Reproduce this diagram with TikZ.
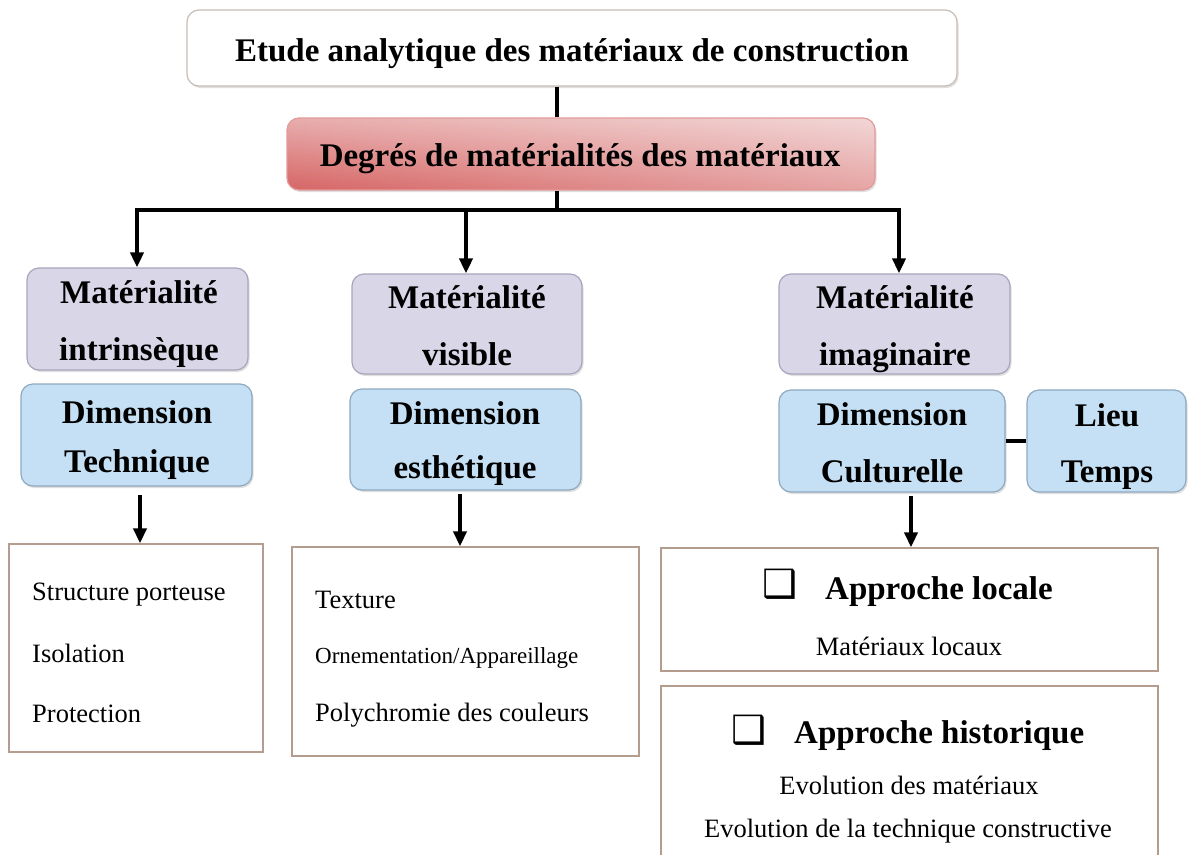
\documentclass[tikz,border=0pt]{standalone}
\usepackage{fontspec}
\setmainfont{Liberation Serif}
\newfontfamily\symfont{DejaVu Sans}
\usetikzlibrary{arrows.meta,shadows,shadings}
\definecolor{purp}{HTML}{D9D6E8}
\definecolor{purpd}{HTML}{A9A5BC}
\definecolor{blu}{HTML}{C5E0F4}
\definecolor{blud}{HTML}{8FA9C0}
\definecolor{topd}{HTML}{C9BDB5}
\definecolor{redd}{HTML}{E39A9A}
\definecolor{rectc}{HTML}{B49C8E}
\definecolor{rll}{HTML}{D66565}
\definecolor{rlr}{HTML}{E6A5A5}
\definecolor{rul}{HTML}{E8ADAD}
\definecolor{rur}{HTML}{F2D6D6}
\begin{document}
\begin{tikzpicture}[x=1pt,y=-1pt]
\tikzset{
 rbox/.style={draw=#1, rounded corners=12pt, line width=1.2pt, inner sep=0pt,
   drop shadow={shadow xshift=1.5pt, shadow yshift=-2pt, opacity=0.25}},
 hd/.style={font=\bfseries\fontsize{33}{40}\selectfont, anchor=base, inner sep=0pt},
 conn/.style={line width=4pt, line cap=rect},
 arr/.style={line width=4pt, -{Triangle[width=13pt,length=15pt]}},
 rect/.style={draw=rectc, line width=1.3pt, fill=white, inner sep=0pt},
 txt/.style={font=\fontsize{26.5}{30}\selectfont, anchor=base west, inner sep=0pt},
 ctxt/.style={font=\fontsize{26.5}{30}\selectfont, anchor=base, inner sep=0pt},
 btxt/.style={font=\bfseries\fontsize{33}{40}\selectfont, anchor=base west, inner sep=0pt},
 cbx/.style={font=\symfont\fontsize{39}{40}\selectfont, anchor=base west, inner sep=0pt},
}
\clip (0,0) rectangle (1190,854);
\fill[white] (0,0) rectangle (1190,854);

% top boxes
\node[rbox=topd, fill=white, minimum width=770pt, minimum height=76pt] (top) at (572,48) {};
\node[hd] (topt) at (572,61) {Etude analytique des matériaux de construction};
\node[rbox=redd, minimum width=588pt, minimum height=72pt,
  lower left=rll, lower right=rlr, upper left=rul, upper right=rur] (red) at (581,154) {};
\node[hd] (redt) at (580,166) {Degrés de matérialités des matériaux};

% level 2 boxes
\node[rbox=purpd, fill=purp, minimum width=221pt, minimum height=102pt] (lp) at (137.5,319) {};
\node[rbox=purpd, fill=purp, minimum width=230pt, minimum height=100pt] (mp) at (467,324) {};
\node[rbox=purpd, fill=purp, minimum width=231pt, minimum height=100pt] (rp) at (894.5,324) {};
\node[rbox=blud, fill=blu, minimum width=231pt, minimum height=102pt] (lb) at (136.5,435) {};
\node[rbox=blud, fill=blu, minimum width=231pt, minimum height=101pt] (mb) at (465.5,439.5) {};
\node[rbox=blud, fill=blu, minimum width=226pt, minimum height=102pt] (rb) at (892,441) {};
\node[rbox=blud, fill=blu, minimum width=159pt, minimum height=102pt] (lt) at (1106.5,441) {};

% level 2 texts
\node[hd] (lp1) at (139,303) {Matérialité};
\node[hd] (lp2) at (139,360) {intrinsèque};
\node[hd] (mp1) at (467,308) {Matérialité};
\node[hd] (mp2) at (467,365) {visible};
\node[hd] (rp1) at (895,308) {Matérialité};
\node[hd] (rp2) at (895,365) {imaginaire};
\node[hd] (lb1) at (137,423) {Dimension};
\node[hd] (lb2) at (137,472) {Technique};
\node[hd] (mb1) at (465,424) {Dimension};
\node[hd] (mb2) at (465,478) {esthétique};
\node[hd] (rb1) at (892,425) {Dimension};
\node[hd] (rb2) at (892,482) {Culturelle};
\node[hd] (lt1) at (1107,426) {Lieu};
\node[hd] (lt2) at (1107,482) {Temps};

% rectangles
\node[rect, minimum width=254pt, minimum height=208pt] (lr) at (136,648) {};
\node[rect, minimum width=347pt, minimum height=209pt] (mr) at (465.5,651.5) {};
\node[rect, minimum width=497pt, minimum height=123pt] (rt) at (909.5,609.5) {};
\node[rect, minimum width=497pt, minimum height=184pt] (rbot) at (909.5,778) {};

% texts
\node[txt] (t1) at (32,600) {Structure porteuse};
\node[txt] (t2) at (32,662) {Isolation};
\node[txt] (t3) at (32,722) {Protection};
\node[txt] (t4) at (315,608) {Texture};
\node[txt, font=\fontsize{23}{26}\selectfont] (t5) at (315,663) {Ornementation/Appareillage};
\node[txt] (t6) at (315,721) {Polychromie des couleurs};
\node[cbx] (c1) at (762,597) {❑};
\node[btxt] (h1) at (825,599) {Approche locale};
\node[ctxt] (t7) at (909,655) {Matériaux locaux};
\node[cbx] (c2) at (731,743) {❑};
\node[btxt] (h2) at (794,743) {Approche historique};
\node[ctxt] (t8) at (909,794) {Evolution des matériaux};
\node[ctxt] (t9) at (908,837) {Evolution de la technique constructive};

% connectors
\coordinate (j) at (557,210);
\coordinate (jl) at (137,210);
\coordinate (jm) at (466,210);
\coordinate (jr) at (899,210);
\draw[line width=4pt] (j |- top.south) -- (j |- red.north);
\draw[line width=4pt] (j |- red.south) -- (j);
\draw[conn] (jl) -- (jr);
\draw[arr] (jl) -- (jl |- lp.north);
\draw[arr] (jm) -- (jm |- mp.north);
\draw[arr] (jr) -- (jr |- rp.north);
\coordinate (al) at (140,495);
\coordinate (am) at (460,494);
\coordinate (ar) at (911,496);
\draw[arr] (al) -- (al |- lr.north);
\draw[arr] (am) -- (am |- mr.north);
\draw[arr] (ar) -- (ar |- rt.north);
\draw[line width=4pt] (rb.east) -- (lt.west);
\end{tikzpicture}
\end{document}
